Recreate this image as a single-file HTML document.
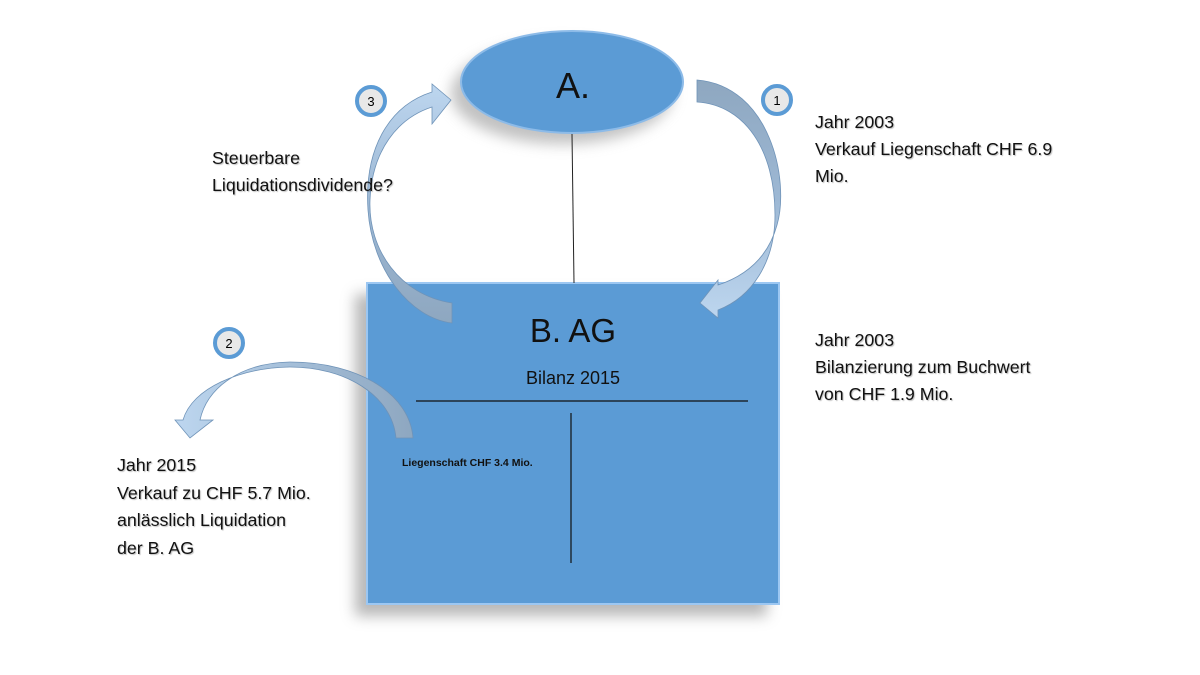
<!DOCTYPE html>
<html><head><meta charset="utf-8">
<style>
html,body{margin:0;padding:0;background:#fff;}
body{width:1200px;height:675px;position:relative;overflow:hidden;font-family:"Liberation Sans",sans-serif;}
.t{position:absolute;font-size:17.8px;line-height:27px;color:#111;text-shadow:1px 1px 1px rgba(0,0,0,0.25);white-space:nowrap;}
</style></head><body>
<svg width="1200" height="675" style="position:absolute;left:0;top:0">
<defs>
<filter id="sh" x="-20%" y="-20%" width="140%" height="140%"><feGaussianBlur stdDeviation="7"/></filter>
<linearGradient id="g1" x1="0" y1="0" x2="0" y2="1"><stop offset="0" stop-color="#8ea7c0"/><stop offset="0.5" stop-color="#9db8d4"/><stop offset="1" stop-color="#bdd6ef"/></linearGradient>
<linearGradient id="g3" x1="0" y1="1" x2="0" y2="0"><stop offset="0" stop-color="#8ea7c0"/><stop offset="0.5" stop-color="#9db8d4"/><stop offset="1" stop-color="#bdd6ef"/></linearGradient>
<linearGradient id="g2" x1="1" y1="0" x2="0" y2="0"><stop offset="0" stop-color="#8ea7c0"/><stop offset="0.5" stop-color="#a4bed8"/><stop offset="1" stop-color="#bdd6ef"/></linearGradient>
</defs>
<rect x="355" y="294" width="412" height="322" fill="#9a9a9a" opacity="0.7" filter="url(#sh)"/>
<ellipse cx="562" cy="93" rx="111" ry="51" fill="#999" opacity="0.6" filter="url(#sh)"/>
<rect x="367" y="283" width="412" height="321" fill="#5b9bd5" stroke="#9cc7f2" stroke-width="2"/>
<ellipse cx="572" cy="82" rx="111" ry="51" fill="#5b9bd5" stroke="#8dbbe8" stroke-width="2"/>
<line x1="572" y1="134" x2="574" y2="283" stroke="#222" stroke-width="1"/>
<line x1="416" y1="401" x2="748" y2="401" stroke="#111" stroke-width="1.2"/>
<line x1="571" y1="413" x2="571" y2="563" stroke="#111" stroke-width="1.2"/>
<path d="M697,80 C770,86 790,180 777,225 C768,258 745,276 718,285 L718,280 L700,303 L718,318 L718,310 C752,297 775,262 775,215 C775,150 745,105 697,102 Z" fill="url(#g1)" stroke="#6f93b8" stroke-width="0.8"/>
<path d="M452,303 C400,295 368,250 370,200 C372,150 398,118 432,107 L432,124 L451,100 L432,84 L432,92 C388,106 364,150 368,210 C372,270 410,318 452,323 Z" fill="url(#g3)" stroke="#6f93b8" stroke-width="0.8"/>
<path d="M413,438 C410,395 360,362 290,362 C240,363 207,388 200,420 L213,420 L190,438 L175,420 L183,420 C192,388 240,368 290,367 C345,367 392,395 396,438 Z" fill="url(#g2)" stroke="#6f93b8" stroke-width="0.8"/>
<g font-family="Liberation Sans,sans-serif" font-size="13" text-anchor="middle">
<circle cx="371" cy="101" r="14" fill="#e8e8e8" stroke="#5b9bd5" stroke-width="4"/><text x="371" y="106">3</text>
<circle cx="777" cy="100" r="14" fill="#e8e8e8" stroke="#5b9bd5" stroke-width="4"/><text x="777" y="105">1</text>
<circle cx="229" cy="343" r="14" fill="#e8e8e8" stroke="#5b9bd5" stroke-width="4"/><text x="229" y="348">2</text>
</g>
<text x="573" y="98" text-anchor="middle" font-family="Liberation Sans,sans-serif" font-size="36" fill="#111">A.</text>
<text x="573" y="342" text-anchor="middle" font-family="Liberation Sans,sans-serif" font-size="33" fill="#111">B. AG</text>
<text x="573" y="384" text-anchor="middle" font-family="Liberation Sans,sans-serif" font-size="18" fill="#111">Bilanz 2015</text>
<text x="402" y="466" font-family="Liberation Sans,sans-serif" font-size="10.5" font-weight="bold" fill="#111">Liegenschaft CHF 3.4 Mio.</text>
</svg>
<div class="t" style="left:815px;top:109px;">Jahr 2003<br>Verkauf Liegenschaft CHF 6.9<br>Mio.</div>
<div class="t" style="left:815px;top:327px;">Jahr 2003<br>Bilanzierung zum Buchwert<br>von CHF 1.9 Mio.</div>
<div class="t" style="left:212px;top:145px;">Steuerbare<br>Liquidationsdividende?</div>
<div class="t" style="left:117px;top:452px;line-height:27.5px;">Jahr 2015<br>Verkauf zu CHF 5.7 Mio.<br>anlässlich Liquidation<br>der B. AG</div>
</body></html>
